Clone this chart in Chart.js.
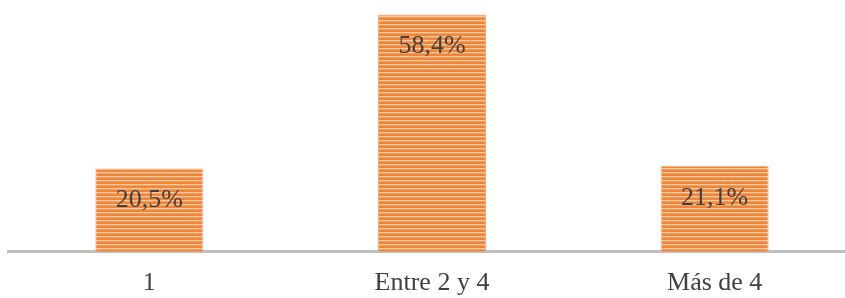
<!DOCTYPE html>
<html>
<head>
<meta charset="utf-8">
<script src="https://cdn.jsdelivr.net/npm/chart.js@4"></script>
<style>
  html, body { margin: 0; padding: 0; background: #fff; overflow: hidden; }
  #wrap { position: relative; width: 856px; height: 315px; }
</style>
</head>
<body>
<div id="wrap"><canvas id="barChart"></canvas></div>
<script>
const categories = ['1', 'Entre 2 y 4', 'Más de 4'];
const values = [20.5, 58.4, 21.1];
const valueLabels = ['20,5%', '58,4%', '21,1%'];

// striped orange fill like the original
function stripePattern() {
    const c = document.createElement('canvas');
    c.width = 4; c.height = 4;
    const g = c.getContext('2d');
    const rows = ['#F9C9A3', '#F39D5E', '#EE8537', '#EE8537'];
    rows.forEach((col, i) => { g.fillStyle = col; g.fillRect(0, i, 4, 1); });
    return g.createPattern(c, 'repeat');
}

const labelPlugin = {
    id: 'valueLabels',
    afterDatasetsDraw(chart) {
        const ctx = chart.ctx;
        const meta = chart.getDatasetMeta(0);
        ctx.save();
        ctx.font = '26px "Liberation Serif", "Times New Roman", serif';
        ctx.fillStyle = '#404040';
        ctx.textAlign = 'center';
        ctx.textBaseline = 'middle';
        meta.data.forEach((bar, i) => {
            ctx.fillText(valueLabels[i], bar.x, bar.y + 32);
        });
        ctx.restore();
    }
};

const ctx = document.getElementById('barChart').getContext('2d');
new Chart(ctx, {
    type: 'bar',
    data: {
        labels: categories,
        datasets: [{
            data: values,
            backgroundColor: stripePattern(),
            borderColor: '#F6B07E',
            borderWidth: 1,
            barPercentage: 0.382,
            categoryPercentage: 1
        }]
    },
    options: {
        responsive: true,
        maintainAspectRatio: false,
        animation: false,
        layout: { padding: { left: 8, right: 0, top: 0, bottom: 0 } },
        plugins: {
            legend: { display: false },
            tooltip: { enabled: false }
        },
        scales: {
            x: {
                grid: { display: false, drawTicks: false },
                border: { display: true, color: '#BFBFBF', width: 3 },
                ticks: {
                    color: '#404040',
                    padding: 16,
                    font: { family: '"Liberation Serif", "Times New Roman", serif', size: 26 }
                }
            },
            y: {
                display: false,
                min: 0,
                max: 62
            }
        }
    },
    plugins: [labelPlugin]
});
</script>
</body>
</html>
